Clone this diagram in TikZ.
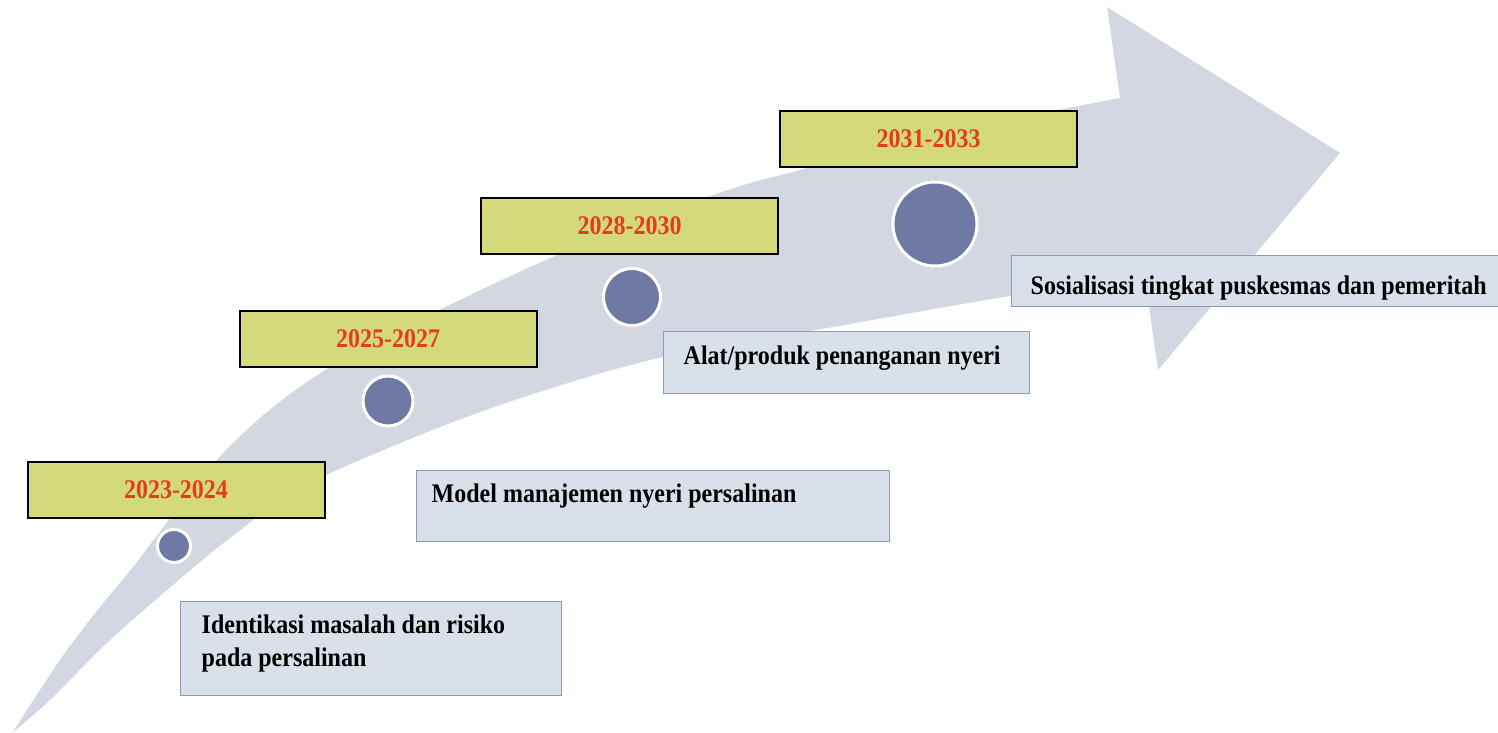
\documentclass[tikz,border=0pt]{standalone}
\usepackage{graphicx}
\usepackage{fontspec}
\setmainfont{Liberation Serif}
\definecolor{arrowfill}{RGB}{211,215,225}
\definecolor{yearfill}{RGB}{212,218,124}
\definecolor{yeartext}{RGB}{228,60,28}
\definecolor{dotfill}{RGB}{110,122,163}
\definecolor{notefill}{RGB}{218,224,234}
\definecolor{notedraw}{RGB}{140,155,185}
% the lettering is set slightly taller than its natural shape
\newcommand\stretchtxt[1]{\scalebox{1}[1.12]{#1}}
\begin{document}
\begin{tikzpicture}[x=1pt,y=-1pt,
  yearbox/.style={draw=black, line width=2pt, fill=yearfill,
    minimum width=297pt, minimum height=56pt, inner sep=0pt,
    text=yeartext, font=\fontsize{24}{28}\selectfont\bfseries},
  dot/.style={circle, draw=white, line width=3pt, fill=dotfill, inner sep=0pt},
  notebox/.style={draw=notedraw, line width=1pt, fill=notefill, inner sep=0pt},
  notetext/.style={inner sep=0pt, font=\fontsize{24}{33}\selectfont\bfseries}
]
\useasboundingbox (0,0) rectangle (1498,732);
\fill[white] (0,0) rectangle (1498,732);

% curved timeline arrow
\fill[arrowfill]
  plot[smooth, tension=0.55] coordinates {(13,732) (40,690) (67,650) (100,607) (133,567)
    (175,512) (215,462) (260,418) (310,380) (375,341) (443,308) (560,254)
    (713,195) (800,170) (950,132) (1120,98)}
  -- (1107,7) -- (1340,153) -- (1158,370) -- (1145,278)
  -- plot[smooth, tension=0.55] coordinates {(1145,278) (1010,296) (833,327) (663,357)
    (530,395) (420,435) (300,488) (230,538) (187,573) (110,640) (50,700) (13,732)}
  -- cycle;

% milestones on the arrow
\node[dot, minimum size=33pt] (c1) at (174,546) {};
\node[dot, minimum size=50pt] (c2) at (388,401) {};
\node[dot, minimum size=57pt] (c3) at (632,297) {};
\node[dot, minimum size=84pt] (c4) at (935,224) {};

% periods
\node[yearbox] (y1) at (176,490) {\stretchtxt{2023-2024}};
\node[yearbox] (y2) at (388,339) {\stretchtxt{2025-2027}};
\node[yearbox] (y3) at (629.5,226) {\stretchtxt{2028-2030}};
\node[yearbox] (y4) at (928.5,138.5) {\stretchtxt{2031-2033}};

% outputs
\node[notebox, minimum width=381pt, minimum height=94pt] (t1) at (370.5,648) {};
\node[notetext, anchor=base west] (t1a) at ([shift={(22,33)}]t1.north west) {\stretchtxt{Identikasi masalah dan risiko}};
\node[notetext, anchor=base west] (t1b) at ([shift={(22,66)}]t1.north west) {\stretchtxt{pada persalinan}};

\node[notebox, minimum width=473pt, minimum height=71pt] (t2) at (652.5,505.5) {};
\node[notetext, anchor=base west] (t2a) at ([shift={(16,33)}]t2.north west) {\stretchtxt{Model manajemen nyeri persalinan}};

\node[notebox, minimum width=366pt, minimum height=62pt] (t3) at (846,362) {};
\node[notetext, anchor=base west] (t3a) at ([shift={(21,34)}]t3.north west) {\stretchtxt{Alat/produk penanganan nyeri}};

\node[notebox, minimum width=487pt, minimum height=51pt] (t4) at (1254.5,280.5) {};
\node[notetext, anchor=base west] (t4a) at ([shift={(20,40)}]t4.north west) {\stretchtxt{Sosialisasi tingkat puskesmas dan pemeritah}};
\end{tikzpicture}
\end{document}
